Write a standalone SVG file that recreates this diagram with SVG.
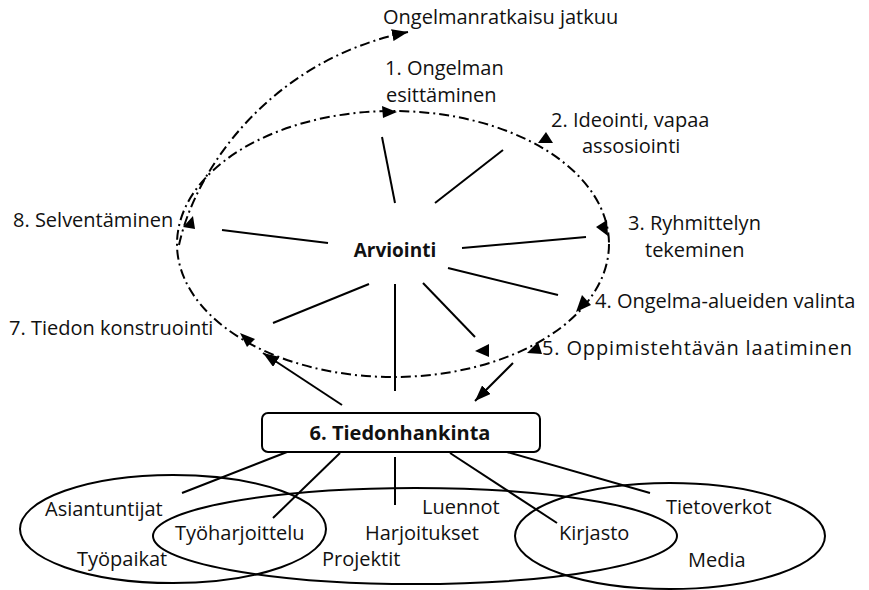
<svg xmlns="http://www.w3.org/2000/svg" width="869" height="590" viewBox="0 0 869 590">
<style>
text{font-family:"Open Sans","Liberation Sans",sans-serif;font-size:20px;fill:#111}
.b{font-weight:bold}
.ln{stroke:#000;stroke-width:2;fill:none}
.dd{stroke:#000;stroke-width:2;fill:none;stroke-dasharray:10 4 2 4}
.ah{fill:#000;stroke:none}
</style>
<defs>
<marker id="arr" markerUnits="userSpaceOnUse" markerWidth="16" markerHeight="12" refX="16" refY="6" orient="auto">
<path d="M0,0 L16,6 L0,12 z" fill="#000"/>
</marker>
</defs>
<rect width="869" height="590" fill="#fff"/>
<g id="connectors">
<ellipse class="dd" cx="393" cy="244" rx="216" ry="133"/>
<path class="dd" d="M179,245 C195,170 270,60 408,32" marker-end="url(#arr)"/>
<polygon class="ah" points="397,112 382,106 383,118"/>
<polygon class="ah" points="546,132 538,143 553,143"/>
<polygon class="ah" points="596,227 607,220 608,236"/>
<polygon class="ah" points="576,312 582,295 591,305"/>
<polygon class="ah" points="527,353 538,342 542,354"/>
<polygon class="ah" points="475,351 489,344 489,357"/>
<polygon class="ah" points="240,333 255,339 247,347"/>
<polygon class="ah" points="193,216 183,227 195,229"/>
<line class="ln" x1="382" y1="137" x2="395" y2="203"/>
<line class="ln" x1="435" y1="203" x2="503" y2="150"/>
<line class="ln" x1="222" y1="230" x2="328" y2="243"/>
<line class="ln" x1="462" y1="248" x2="586" y2="237"/>
<line class="ln" x1="448" y1="268" x2="558" y2="295"/>
<line class="ln" x1="273" y1="323" x2="369" y2="284"/>
<line class="ln" x1="395" y1="284" x2="395" y2="391"/>
<line class="ln" x1="423" y1="283" x2="475" y2="337"/>
<line class="ln" x1="342" y1="405" x2="263" y2="353" marker-end="url(#arr)"/>
<line class="ln" x1="513" y1="363" x2="475" y2="401" marker-end="url(#arr)"/>
<line class="ln" x1="287" y1="452" x2="182" y2="493"/>
<line class="ln" x1="340" y1="453" x2="273" y2="518"/>
<line class="ln" x1="395" y1="457" x2="395" y2="505"/>
<line class="ln" x1="450" y1="453" x2="557" y2="523"/>
<line class="ln" x1="507" y1="452" x2="650" y2="493"/>
</g>
<g id="sets">
<ellipse class="ln" cx="173" cy="529" rx="153" ry="54"/>
<ellipse class="ln" cx="415" cy="536" rx="262" ry="48"/>
<ellipse class="ln" cx="670" cy="536" rx="155" ry="53"/>
</g>
<g id="n0"><text x="383" y="24">Ongelmanratkaisu jatkuu</text></g>
<g id="n1"><text x="385" y="75">1. Ongelman</text><text x="386" y="102">esittäminen</text></g>
<g id="n2"><text x="551" y="127">2. Ideointi, vapaa</text><text x="582" y="153">assosiointi</text></g>
<g id="n3"><text x="628" y="230">3. Ryhmittelyn</text><text x="645" y="257">tekeminen</text></g>
<g id="n4"><text x="595" y="308">4. Ongelma-alueiden valinta</text></g>
<g id="n5"><text x="542" y="355" textLength="310" lengthAdjust="spacing">5. Oppimistehtävän laatiminen</text></g>
<g id="n7"><text x="9" y="335">7. Tiedon konstruointi</text></g>
<g id="n8"><text x="13" y="227">8. Selventäminen</text></g>
<g id="center"><text class="b" x="395" y="257" text-anchor="middle" style="font-size:19px">Arviointi</text></g>
<g id="n6">
<rect class="ln" x="262" y="413" width="278" height="39" rx="6"/>
<text class="b" x="400" y="440" text-anchor="middle">6. Tiedonhankinta</text>
</g>
<g id="sources">
<text x="45" y="516">Asiantuntijat</text>
<text x="175" y="540">Työharjoittelu</text>
<text x="77" y="566">Työpaikat</text>
<text x="422" y="514">Luennot</text>
<text x="365" y="540">Harjoitukset</text>
<text x="322" y="566">Projektit</text>
<text x="559" y="540">Kirjasto</text>
<text x="666" y="514">Tietoverkot</text>
<text x="688" y="567">Media</text>
</g>
</svg>
